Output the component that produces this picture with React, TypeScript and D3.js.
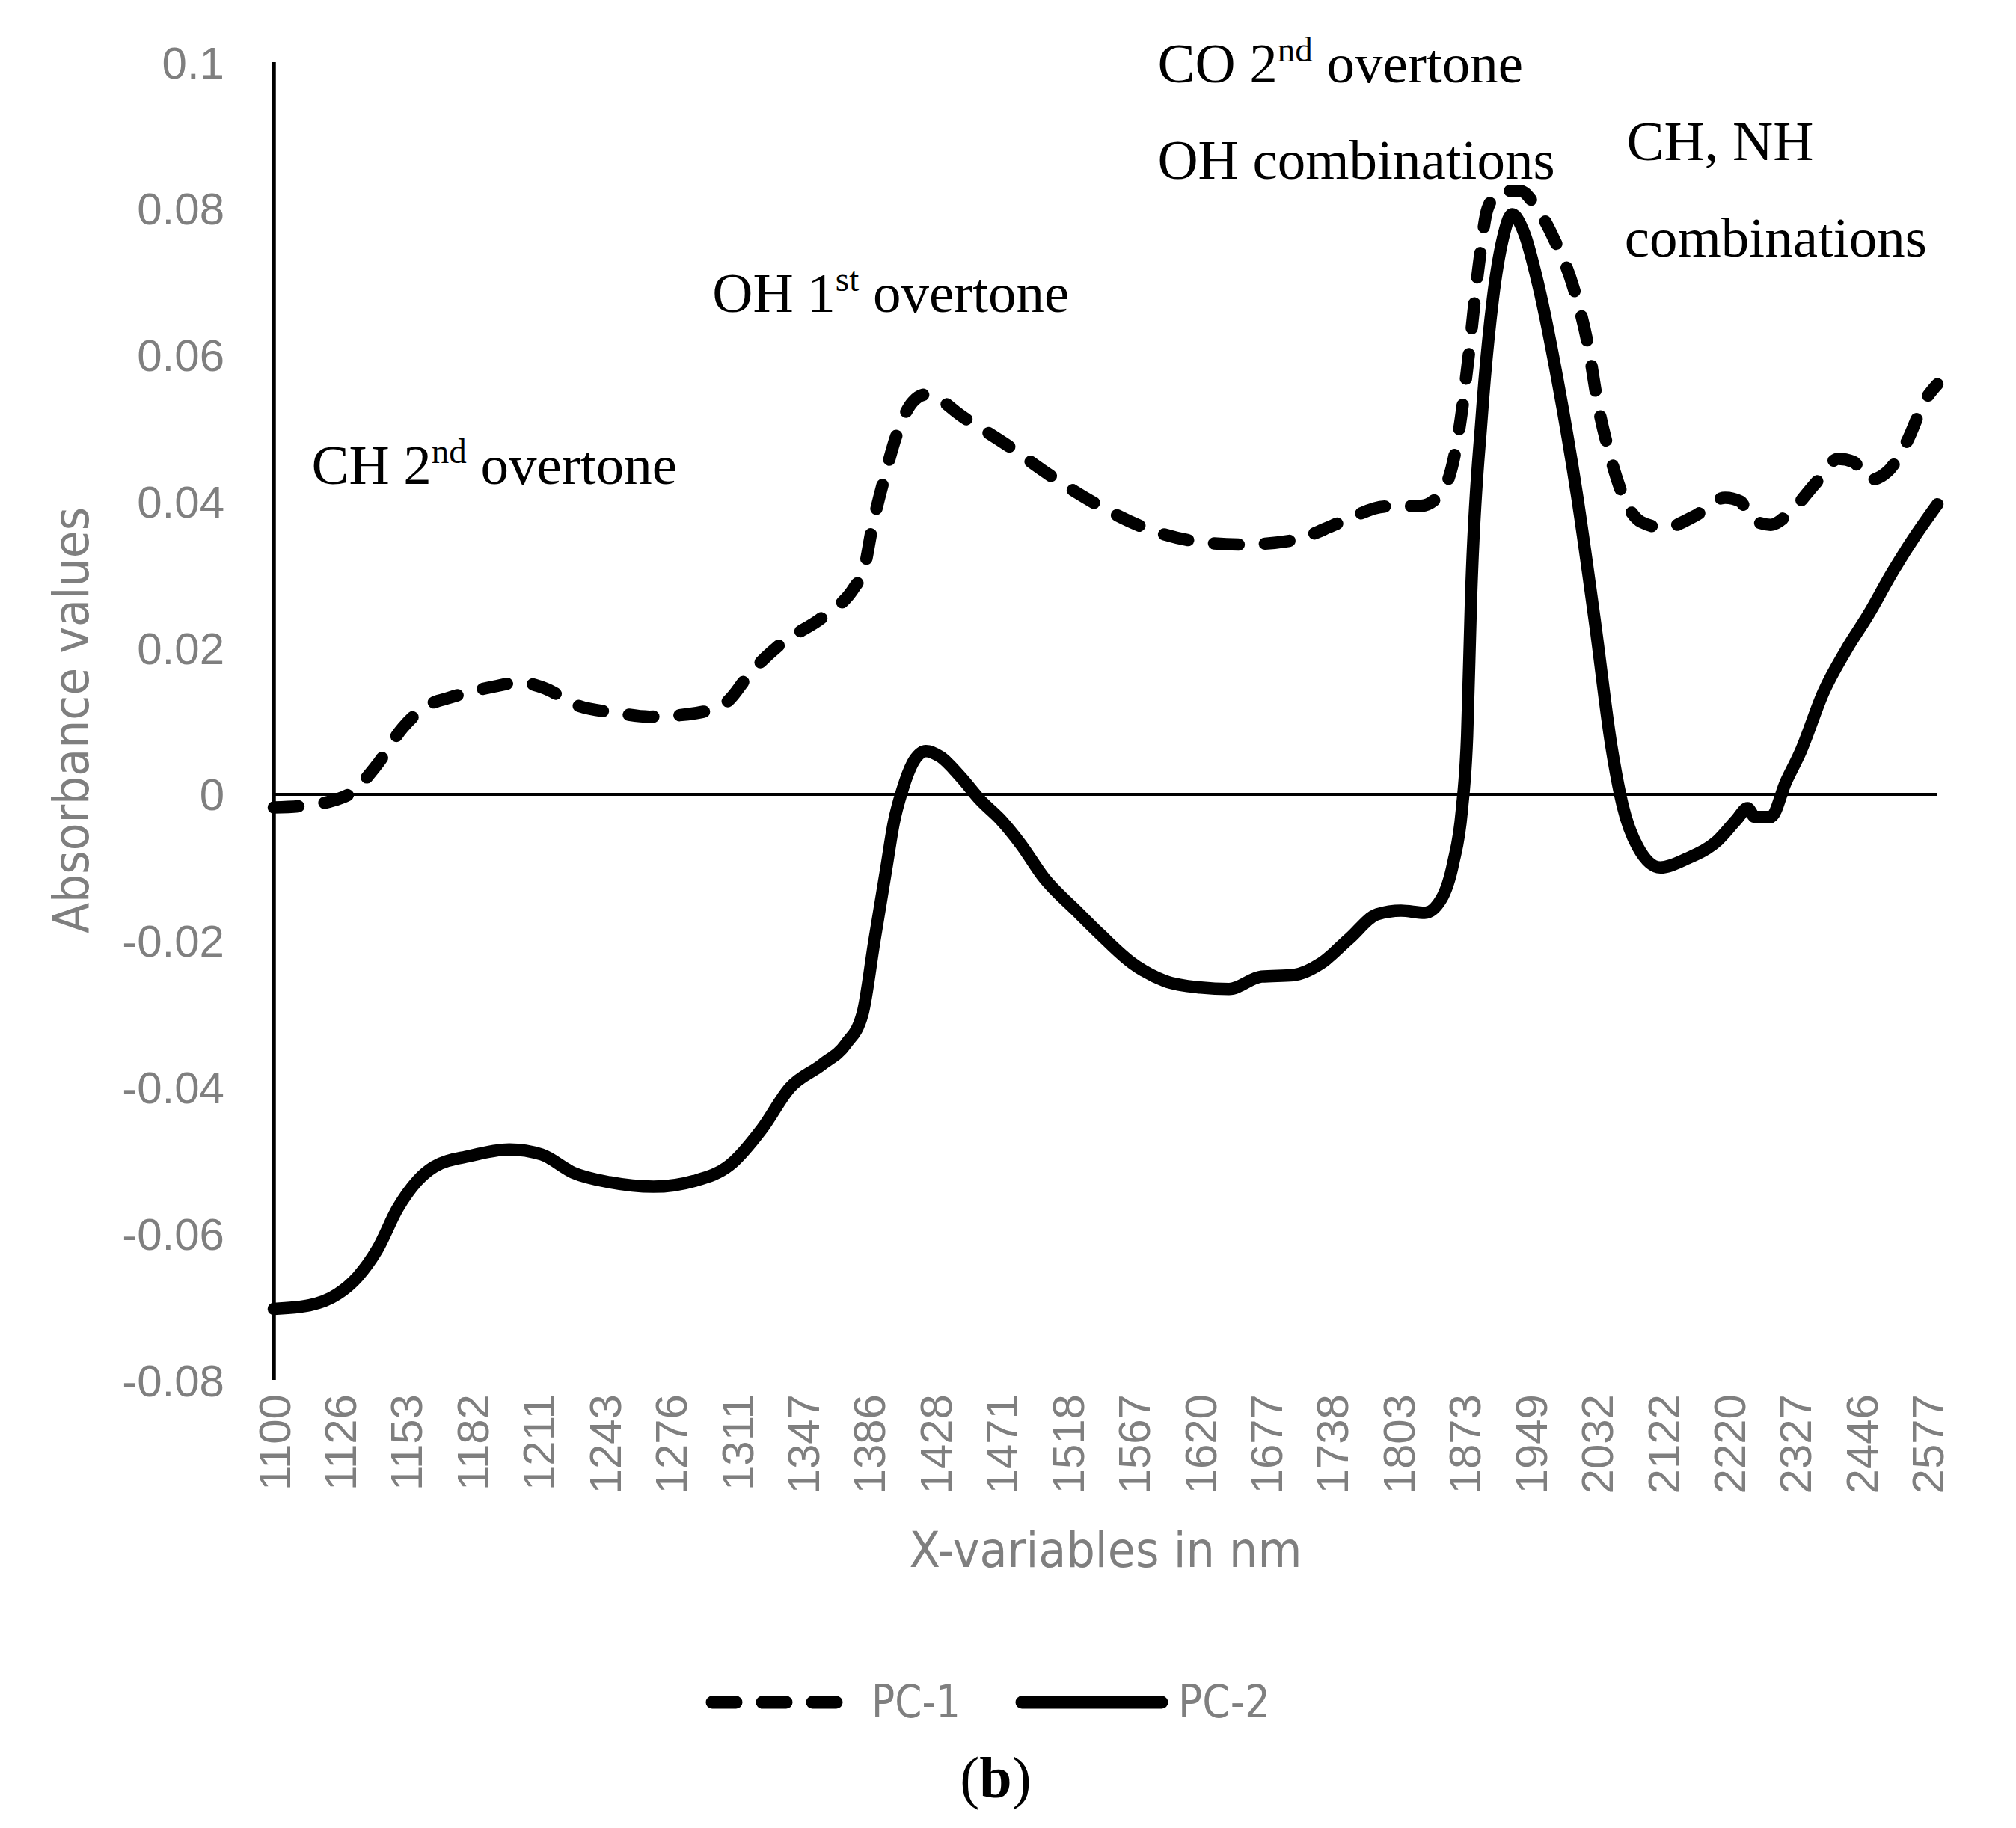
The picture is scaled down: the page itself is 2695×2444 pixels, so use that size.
import { useEffect, useRef } from 'react';
import * as d3 from 'd3';

// category labels on the x axis (nm), one per tick
const xTickLabels = [
  '1100', '1126', '1153', '1182', '1211', '1243', '1276', '1311', '1347', '1386',
  '1428', '1471', '1518', '1567', '1620', '1677', '1738', '1803', '1873', '1949',
  '2032', '2122', '2220', '2327', '2446', '2577',
];

const yTicks = [-0.08, -0.06, -0.04, -0.02, 0, 0.02, 0.04, 0.06, 0.08, 0.1];

// PC-1 loadings (position in tick units, value)
const pc1Pos = [
  0, 0.42, 0.92, 1.14, 1.55, 1.95, 2.34, 2.66, 3.38, 3.7, 4.09, 4.57, 5.2, 5.68, 6.39,
  6.86, 7.18, 7.66, 8.3, 8.78, 8.92, 9.05, 9.23, 9.44, 9.66, 9.86, 10.44, 11.1, 11.71,
  12.38, 13.11, 13.83, 14.62, 15.41, 16.14, 16.8, 17.35, 17.69, 17.92, 18.06, 18.21,
  18.35, 18.55, 18.84, 19.07, 19.35, 19.64, 19.87, 20.02, 20.19, 20.39, 20.67, 21.02,
  21.48, 21.94, 22.17, 22.34, 22.63, 22.91, 23.31, 23.65, 23.88, 24.11, 24.4, 24.69,
  24.97, 25.15,
];
const pc1Val = [
  -0.0018, -0.0016, -0.0008, 0.0, 0.0039, 0.0091, 0.0122, 0.0132, 0.0148, 0.0153, 0.0145,
  0.0122, 0.0111, 0.0106, 0.0111, 0.0127, 0.0163, 0.0205, 0.0242, 0.0283, 0.0306, 0.0366,
  0.0432, 0.0497, 0.0536, 0.0546, 0.0514, 0.0476, 0.0437, 0.0399, 0.0366, 0.0347, 0.0341,
  0.0347, 0.0372, 0.0393, 0.0394, 0.0417, 0.0498, 0.0596, 0.0718, 0.08, 0.0824, 0.0824,
  0.0804, 0.0759, 0.0694, 0.0612, 0.0531, 0.0466, 0.0409, 0.0372, 0.0364, 0.038, 0.0405,
  0.04, 0.0376, 0.0368, 0.0384, 0.0425, 0.0458, 0.0454, 0.0429, 0.0441, 0.0482, 0.0539,
  0.056,
];

// PC-2 loadings
const pc2Pos = [
  0, 0.54, 0.96, 1.27, 1.57, 1.87, 2.17, 2.42, 2.96, 3.56, 4.05, 4.53, 5.08, 5.74, 6.36,
  6.9, 7.38, 7.8, 8.29, 8.65, 8.9, 9.08, 9.26, 9.37, 9.5, 9.68, 9.86, 10.08, 10.38, 10.69,
  10.98, 11.29, 11.65, 12.13, 12.5, 12.98, 13.47, 14.01, 14.44, 14.93, 15.41, 15.83,
  16.26, 16.68, 17.04, 17.4, 17.65, 17.83, 17.96, 18.04, 18.1, 18.26, 18.43, 18.58, 18.72,
  18.9, 19.12, 19.41, 19.7, 19.98, 20.22, 20.39, 20.62, 20.96, 21.36, 21.83, 22.11, 22.28,
  22.39, 22.63, 22.86, 23.08, 23.43, 23.77, 24.11, 24.46, 24.8, 25.15,
];
const pc2Val = [
  -0.0703, -0.0698, -0.0683, -0.0659, -0.0621, -0.0566, -0.0528, -0.0509, -0.0494,
  -0.0485, -0.0492, -0.0517, -0.053, -0.0536, -0.0528, -0.0506, -0.0457, -0.0401,
  -0.0369, -0.0341, -0.03, -0.02, -0.0101, -0.004, 0.0005, 0.0046, 0.0059, 0.0051, 0.0024,
  -0.0009, -0.0034, -0.0068, -0.0115, -0.0159, -0.0192, -0.0231, -0.0255, -0.0264,
  -0.0266, -0.0249, -0.0247, -0.0231, -0.0197, -0.0164, -0.0159, -0.0162, -0.0143,
  -0.0094, -0.0022, 0.008, 0.027, 0.0515, 0.0677, 0.0759, 0.0792, 0.0767, 0.0694, 0.0564,
  0.0409, 0.023, 0.0066, -0.0015, -0.0072, -0.01, -0.0088, -0.0063, -0.0035, -0.0019,
  -0.0031, -0.0031, 0.0017, 0.0058, 0.014, 0.0197, 0.0246, 0.0302, 0.0351, 0.0396,
];

// band annotations, anchored in data space: [position, value, main, sup, rest]
const annotations: [number, number, string, string, string][] = [
  [0.57, 0.0424, 'CH 2', 'nd', ' overtone'],
  [6.63, 0.0659, 'OH 1', 'st', ' overtone'],
  [13.36, 0.0972, 'CO 2', 'nd', ' overtone'],
  [13.36, 0.0841, 'OH combinations', '', ''],
  [20.45, 0.0866, 'CH, NH', '', ''],
  [20.42, 0.0734, 'combinations', '', ''],
];

const W = 2695;
const H = 2444;
const GRAY = '#7f7f7f';
const NARROW = "'Liberation Sans Narrow', 'DejaVu Sans Condensed', 'Arial Narrow', sans-serif";
const SERIF = "'Liberation Serif', 'Times New Roman', serif";

export default function App() {
  const svgRef = useRef<SVGSVGElement>(null);

  useEffect(() => {
    if (!svgRef.current) return;
    const svg = d3.select(svgRef.current);
    svg.selectAll('*').remove();

    const x = d3.scaleLinear().domain([0, 25.15]).range([366, 2590]);
    const y = d3.scaleLinear().domain([-0.08, 0.1]).range([1845, 83]);

    svg.append('rect').attr('width', W).attr('height', H).attr('fill', '#fff');

    // y tick labels
    svg
      .append('g')
      .selectAll('text')
      .data(yTicks)
      .enter()
      .append('text')
      .attr('x', 300)
      .attr('y', (d) => y(d))
      .attr('dy', '0.36em')
      .attr('text-anchor', 'end')
      .style('font-family', "'Liberation Sans', Arial, sans-serif")
      .style('font-size', '60px')
      .style('fill', GRAY)
      .text((d) => String(Math.round(d * 100) / 100));

    // x tick labels, rotated
    svg
      .append('g')
      .selectAll('text')
      .data(xTickLabels)
      .enter()
      .append('text')
      .attr('transform', (d, i) => `translate(${x(i)},1864) rotate(-90)`)
      .attr('dy', '0.36em')
      .attr('text-anchor', 'end')
      .style('font-family', "'Liberation Sans', Arial, sans-serif")
      .style('font-size', '60px')
      .style('fill', GRAY)
      .text((d) => d);

    // axis titles
    svg
      .append('text')
      .attr('transform', `translate(118,963) rotate(-90)`)
      .attr('text-anchor', 'middle')
      .attr('textLength', 570)
      .attr('lengthAdjust', 'spacingAndGlyphs')
      .style('font-family', NARROW)
      .style('font-size', '66px')
      .style('fill', GRAY)
      .text('Absorbance values');

    svg
      .append('text')
      .attr('x', 1478)
      .attr('y', 2095)
      .attr('text-anchor', 'middle')
      .attr('textLength', 525)
      .attr('lengthAdjust', 'spacingAndGlyphs')
      .style('font-family', NARROW)
      .style('font-size', '66px')
      .style('fill', GRAY)
      .text('X-variables in nm');

    // axis lines
    svg
      .append('line')
      .attr('x1', x(0))
      .attr('x2', x(0))
      .attr('y1', y(0.1))
      .attr('y2', y(-0.08))
      .attr('stroke', '#000')
      .attr('stroke-width', 5.5);

    svg
      .append('line')
      .attr('x1', x(0))
      .attr('x2', x(25.15))
      .attr('y1', y(0))
      .attr('y2', y(0))
      .attr('stroke', '#000')
      .attr('stroke-width', 4);

    const line = d3
      .line<number>()
      .x((d) => x(d))
      .curve(d3.curveMonotoneX);

    svg
      .append('path')
      .attr('d', line.y((d, i) => y(pc1Val[i]))(pc1Pos))
      .attr('fill', 'none')
      .attr('stroke', '#000')
      .attr('stroke-width', 16.5)
      .attr('stroke-linecap', 'round')
      .attr('stroke-dasharray', '33,35');

    svg
      .append('path')
      .attr('d', line.y((d, i) => y(pc2Val[i]))(pc2Pos))
      .attr('fill', 'none')
      .attr('stroke', '#000')
      .attr('stroke-width', 16.5)
      .attr('stroke-linejoin', 'round')
      .attr('stroke-linecap', 'round');

    // annotations
    annotations.forEach(([p, v, main, sup, rest]) => {
      const t = svg
        .append('text')
        .attr('x', x(p))
        .attr('y', y(v))
        .style('font-family', SERIF)
        .style('font-size', '75px')
        .style('fill', '#000')
        .style('white-space', 'pre');
      t.append('tspan').text(main);
      if (sup) {
        t.append('tspan').attr('dy', -28).style('font-size', '47px').text(sup);
        t.append('tspan').attr('dy', 28).text(rest);
      }
    });

    // legend
    const lg = svg.append('g');
    lg.append('line')
      .attr('x1', 952)
      .attr('x2', 1121)
      .attr('y1', 2276)
      .attr('y2', 2276)
      .attr('stroke', '#000')
      .attr('stroke-width', 17)
      .attr('stroke-linecap', 'round')
      .attr('stroke-dasharray', '32,35');
    lg.append('text')
      .attr('x', 1165)
      .attr('y', 2296)
      .attr('textLength', 119)
      .attr('lengthAdjust', 'spacingAndGlyphs')
      .style('font-family', NARROW)
      .style('font-size', '60px')
      .style('fill', GRAY)
      .text('PC-1');
    lg.append('line')
      .attr('x1', 1366)
      .attr('x2', 1553)
      .attr('y1', 2276)
      .attr('y2', 2276)
      .attr('stroke', '#000')
      .attr('stroke-width', 17)
      .attr('stroke-linecap', 'round');
    lg.append('text')
      .attr('x', 1575)
      .attr('y', 2296)
      .attr('textLength', 123)
      .attr('lengthAdjust', 'spacingAndGlyphs')
      .style('font-family', NARROW)
      .style('font-size', '60px')
      .style('fill', GRAY)
      .text('PC-2');

    // panel label
    const b = svg
      .append('text')
      .attr('x', 1331)
      .attr('y', 2403)
      .attr('text-anchor', 'middle')
      .style('font-family', SERIF)
      .style('font-size', '78px')
      .style('fill', '#000');
    b.append('tspan').text('(');
    b.append('tspan').style('font-weight', 'bold').text('b');
    b.append('tspan').text(')');
  }, []);

  return (
    <svg
      ref={svgRef}
      width={W}
      height={H}
      style={{ position: 'absolute', left: 0, top: 0, display: 'block' }}
    />
  );
}
